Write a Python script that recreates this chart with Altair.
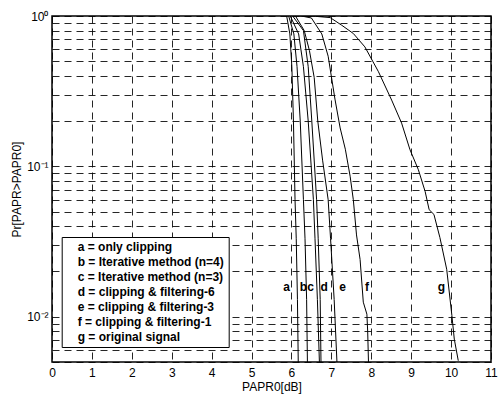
import altair as alt
import pandas as pd

series_names = [
    "a = only clipping",
    "b = Iterative method (n=4)",
    "c = Iterative method (n=3)",
    "d = clipping & filtering-6",
    "e = clipping & filtering-3",
    "f = clipping & filtering-1",
    "g = original signal",
]

a_x = [5.88, 5.96, 6.01, 6.05, 6.09, 6.12, 6.15, 6.17]
a_y = [1.0, 0.76, 0.46, 0.20, 0.06, 0.033, 0.013, 0.005]
b_x = [5.93, 6.06, 6.14, 6.22, 6.30, 6.34, 6.38, 6.40]
b_y = [1.0, 0.76, 0.46, 0.20, 0.06, 0.033, 0.013, 0.005]
c_x = [5.97, 6.18, 6.30, 6.42, 6.55, 6.59, 6.65, 6.70]
c_y = [1.0, 0.76, 0.46, 0.20, 0.06, 0.033, 0.013, 0.005]
d_x = [6.03, 6.30, 6.42, 6.51, 6.63, 6.67, 6.72, 6.74]
d_y = [1.0, 0.80, 0.46, 0.20, 0.06, 0.033, 0.013, 0.005]
e_x = [6.10, 6.32, 6.45, 6.57, 6.66, 6.78, 6.92, 6.98, 7.07, 7.14]
e_y = [1.0, 0.80, 0.59, 0.39, 0.20, 0.11, 0.06, 0.033, 0.013, 0.005]
f_x = [6.25, 6.50, 6.76, 6.92, 7.09, 7.22, 7.35, 7.47, 7.55, 7.63, 7.72, 7.80, 7.89, 7.91, 7.93]
f_y = [1.0, 0.97, 0.76, 0.54, 0.28, 0.18, 0.13, 0.086, 0.06, 0.035, 0.024, 0.0125, 0.0104, 0.008, 0.005]
g_x = [6.2, 6.6, 6.97, 7.26, 7.55, 7.84, 8.18, 8.51, 8.76, 8.97, 9.18, 9.35, 9.45, 9.57,
       9.72, 9.89, 10.02, 10.08, 10.18]
g_y = [1.0, 0.995, 0.976, 0.868, 0.765, 0.623, 0.426, 0.276, 0.194, 0.129, 0.095, 0.068,
       0.0515, 0.0479, 0.0336, 0.0207, 0.0102, 0.0071, 0.0051]

curve_x = [a_x, b_x, c_x, d_x, e_x, f_x, g_x]
curve_y = [a_y, b_y, c_y, d_y, e_y, f_y, g_y]

letters = ["a", "b", "c", "d", "e", "f", "g"]
letter_x = [5.88, 6.30, 6.48, 6.82, 7.28, 7.89, 9.76]
letter_y = [0.0158] * 7

x_ticks = [0, 1, 2, 3, 4, 5, 6, 7, 8, 9, 10, 11]
y_ticks = [0.005, 0.006, 0.007, 0.008, 0.009,
           0.01, 0.02, 0.03, 0.04, 0.05, 0.06, 0.07, 0.08, 0.09,
           0.1, 0.2, 0.3, 0.4, 0.5, 0.6, 0.7, 0.8, 0.9, 1.0]

rows = []
for name, xs, ys in zip(series_names, curve_x, curve_y):
    for i, (xv, yv) in enumerate(zip(xs, ys)):
        rows.append({"series": name, "x": xv, "y": yv, "idx": i})
df = pd.DataFrame(rows)
lab = pd.DataFrame({"t": letters, "x": letter_x, "y": letter_y})

FONT = "Liberation Sans"

xscale = alt.Scale(domain=[0, 11], nice=False, zero=False)
yscale = alt.Scale(type="log", domain=[0.005, 1], nice=False)

xaxis = alt.Axis(values=x_ticks, title="PAPR0[dB]", grid=True, ticks=False,
                 labelOverlap=False, labelFlush=False, labelBound=False,
                 labelSeparation=0, labelPadding=5, titlePadding=3,
                 labelExpr="format(datum.value, 'd')")
yaxis = alt.Axis(values=y_ticks, title="Pr[PAPR>PAPR0]", grid=True, ticks=False,
                 labelOverlap=False, labelFlush=False, labelPadding=4, titlePadding=3,
                 labelExpr="abs(datum.value-1)<1e-9 ? '10⁰' : abs(datum.value-0.1)<1e-9 ? '10⁻¹' : abs(datum.value-0.01)<1e-9 ? '10⁻²' : ''")

lines = alt.Chart(df).mark_line(strokeWidth=1, clip=True).encode(
    x=alt.X("x:Q", scale=xscale, axis=xaxis),
    y=alt.Y("y:Q", scale=yscale, axis=yaxis),
    color=alt.Color("series:N", scale=alt.Scale(domain=series_names, range=["black"] * 7),
                    sort=series_names,
                    legend=alt.Legend(title=None, orient="none", legendX=9.7, legendY=221,
                                      padding=4, strokeColor="black", fillColor="white",
                                      symbolSize=0, symbolStrokeWidth=0, symbolOpacity=0,
                                      labelOffset=0, labelFont=FONT, labelFontWeight="bold",
                                      labelFontSize=12, labelLimit=400, rowPadding=3,
                                      labelColor="black")),
    order="idx:Q",
)

texts = alt.Chart(lab).mark_text(font=FONT, fontWeight="bold", fontSize=12, color="black").encode(
    x=alt.X("x:Q", scale=xscale, axis=xaxis),
    y=alt.Y("y:Q", scale=yscale, axis=yaxis),
    text="t:N",
)

chart = alt.layer(lines, texts).properties(
    width=439, height=346,
    autosize=alt.AutoSizeParams(type="none"),
    padding={"left": 52, "top": 16, "right": 8, "bottom": 33},
    background="white",
).configure_view(stroke="black", strokeWidth=1.5).configure_axis(
    labelFont=FONT, titleFont=FONT, labelFontSize=12, titleFontSize=12,
    labelColor="black", titleColor="black", titleFontWeight="normal",
    labelOverlap=False,
    domain=False, gridColor="black", gridDash=[7, 5], gridWidth=1, gridOpacity=0.85,
)

chart.save("out.html", embed_options={"renderer": "svg", "actions": False})
